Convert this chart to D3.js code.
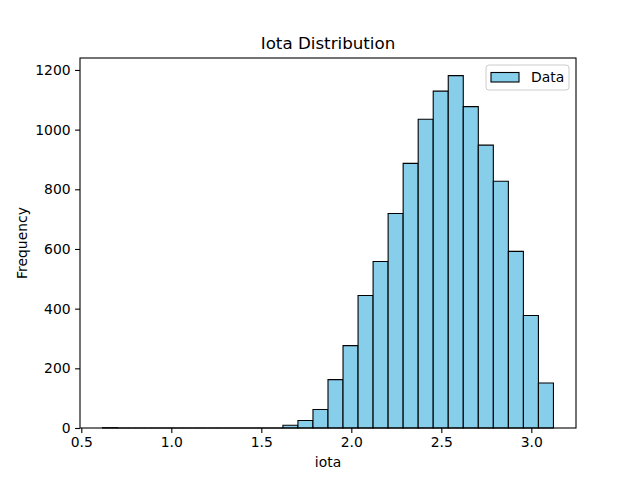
<!DOCTYPE html>
<html>
<head>
<meta charset="utf-8">
<script src="https://cdn.jsdelivr.net/npm/d3@7"></script>
<style>
  body { margin: 0; background: #fff; }
  svg { font-family: "DejaVu Sans", sans-serif; }
</style>
</head>
<body>
<svg id="chart" width="640" height="480"></svg>
<script>
// histogram bin edges (iota) and counts per bin
var binEdges = [0.618, 0.7015, 0.785, 0.8685, 0.952, 1.0355, 1.119, 1.2025, 1.286, 1.3695,
                1.453, 1.5365, 1.620, 1.7035, 1.787, 1.8705, 1.954, 2.0375, 2.121, 2.2045,
                2.288, 2.3715, 2.455, 2.5385, 2.622, 2.7055, 2.789, 2.8725, 2.956, 3.0395, 3.123];
var counts = [1, 0, 0, 0, 0, 0, 0, 0, 0, 0,
              0, 0, 9, 25, 62, 162, 276, 444, 558, 719,
              887, 1035, 1129, 1181, 1077, 948, 827, 592, 377, 151];
var xTicks = [0.5, 1.0, 1.5, 2.0, 2.5, 3.0];
var yTicks = [0, 200, 400, 600, 800, 1000, 1200];

var margin = {left: 80, right: 64, top: 58, bottom: 52};
var svg = d3.select("#chart"),
    width = +svg.attr("width") - margin.left - margin.right,
    height = +svg.attr("height") - margin.top - margin.bottom,
    g = svg.append("g").attr("transform", "translate(" + margin.left + "," + margin.top + ")");

var lo = binEdges[0], hi = binEdges[binEdges.length - 1];
var pad = (hi - lo) * 0.05;
var x = d3.scaleLinear()
    .domain([lo - pad, hi + pad])
    .range([0, width]);

var y = d3.scaleLinear()
    .domain([0, d3.max(counts) * 1.05])
    .range([height, 0]);

var bins = counts.map(function(c, i) {
    return {x0: binEdges[i], x1: binEdges[i + 1], count: c};
});

// drawn as paths so empty bins still show their edge on the baseline
g.selectAll("path.bar")
    .data(bins)
    .enter().append("path")
    .attr("class", "bar")
    .attr("d", function(d) {
        var x0 = x(d.x0), x1 = x(d.x1), y0 = y(0), y1 = y(d.count);
        return "M" + x0 + "," + y0 + "V" + y1 + "H" + x1 + "V" + y0 + "Z";
    })
    .attr("fill", "#87ceeb")
    .attr("stroke", "#000")
    .attr("stroke-width", 1.1);

// axes
var xAxis = g.append("g")
    .attr("transform", "translate(0," + height + ")")
    .call(d3.axisBottom(x).tickValues(xTicks).tickFormat(d3.format(".1f")).tickSize(4.9).tickPadding(4.5));
var yAxis = g.append("g")
    .call(d3.axisLeft(y).tickValues(yTicks).tickFormat(d3.format("d")).tickSize(4.9).tickPadding(4.5));

[xAxis, yAxis].forEach(function(a) {
    a.select(".domain").remove();
    a.selectAll("line").attr("stroke", "#000").attr("stroke-width", 1.1);
    a.selectAll("text").attr("font-size", "13.9px").attr("fill", "#000")
        .attr("font-family", "DejaVu Sans, sans-serif");
});

// frame
g.append("rect")
    .attr("width", width).attr("height", height)
    .attr("fill", "none").attr("stroke", "#000").attr("stroke-width", 1.1);

// titles
svg.append("text")
    .attr("x", margin.left + width / 2).attr("y", 49)
    .attr("text-anchor", "middle").attr("font-size", "16.7px")
    .text("Iota Distribution");

svg.append("text")
    .attr("x", margin.left + width / 2).attr("y", 467)
    .attr("text-anchor", "middle").attr("font-size", "13.9px")
    .text("iota");

svg.append("text")
    .attr("transform", "translate(27," + (margin.top + height / 2) + ") rotate(-90)")
    .attr("text-anchor", "middle").attr("font-size", "13.9px")
    .text("Frequency");

// legend
var lg = svg.append("g").attr("transform", "translate(" + (margin.left + width - 90) + "," + (margin.top + 7) + ")");
lg.append("rect")
    .attr("width", 83).attr("height", 25).attr("rx", 3)
    .attr("fill", "#fff").attr("fill-opacity", 0.8)
    .attr("stroke", "#cccccc").attr("stroke-width", 1);
lg.append("rect")
    .attr("x", 5).attr("y", 7.5).attr("width", 28).attr("height", 9.5)
    .attr("fill", "#87ceeb").attr("stroke", "#000").attr("stroke-width", 1.1);
lg.append("text")
    .attr("x", 45).attr("y", 17).attr("font-size", "13.9px")
    .text("Data");
</script>
</body>
</html>
